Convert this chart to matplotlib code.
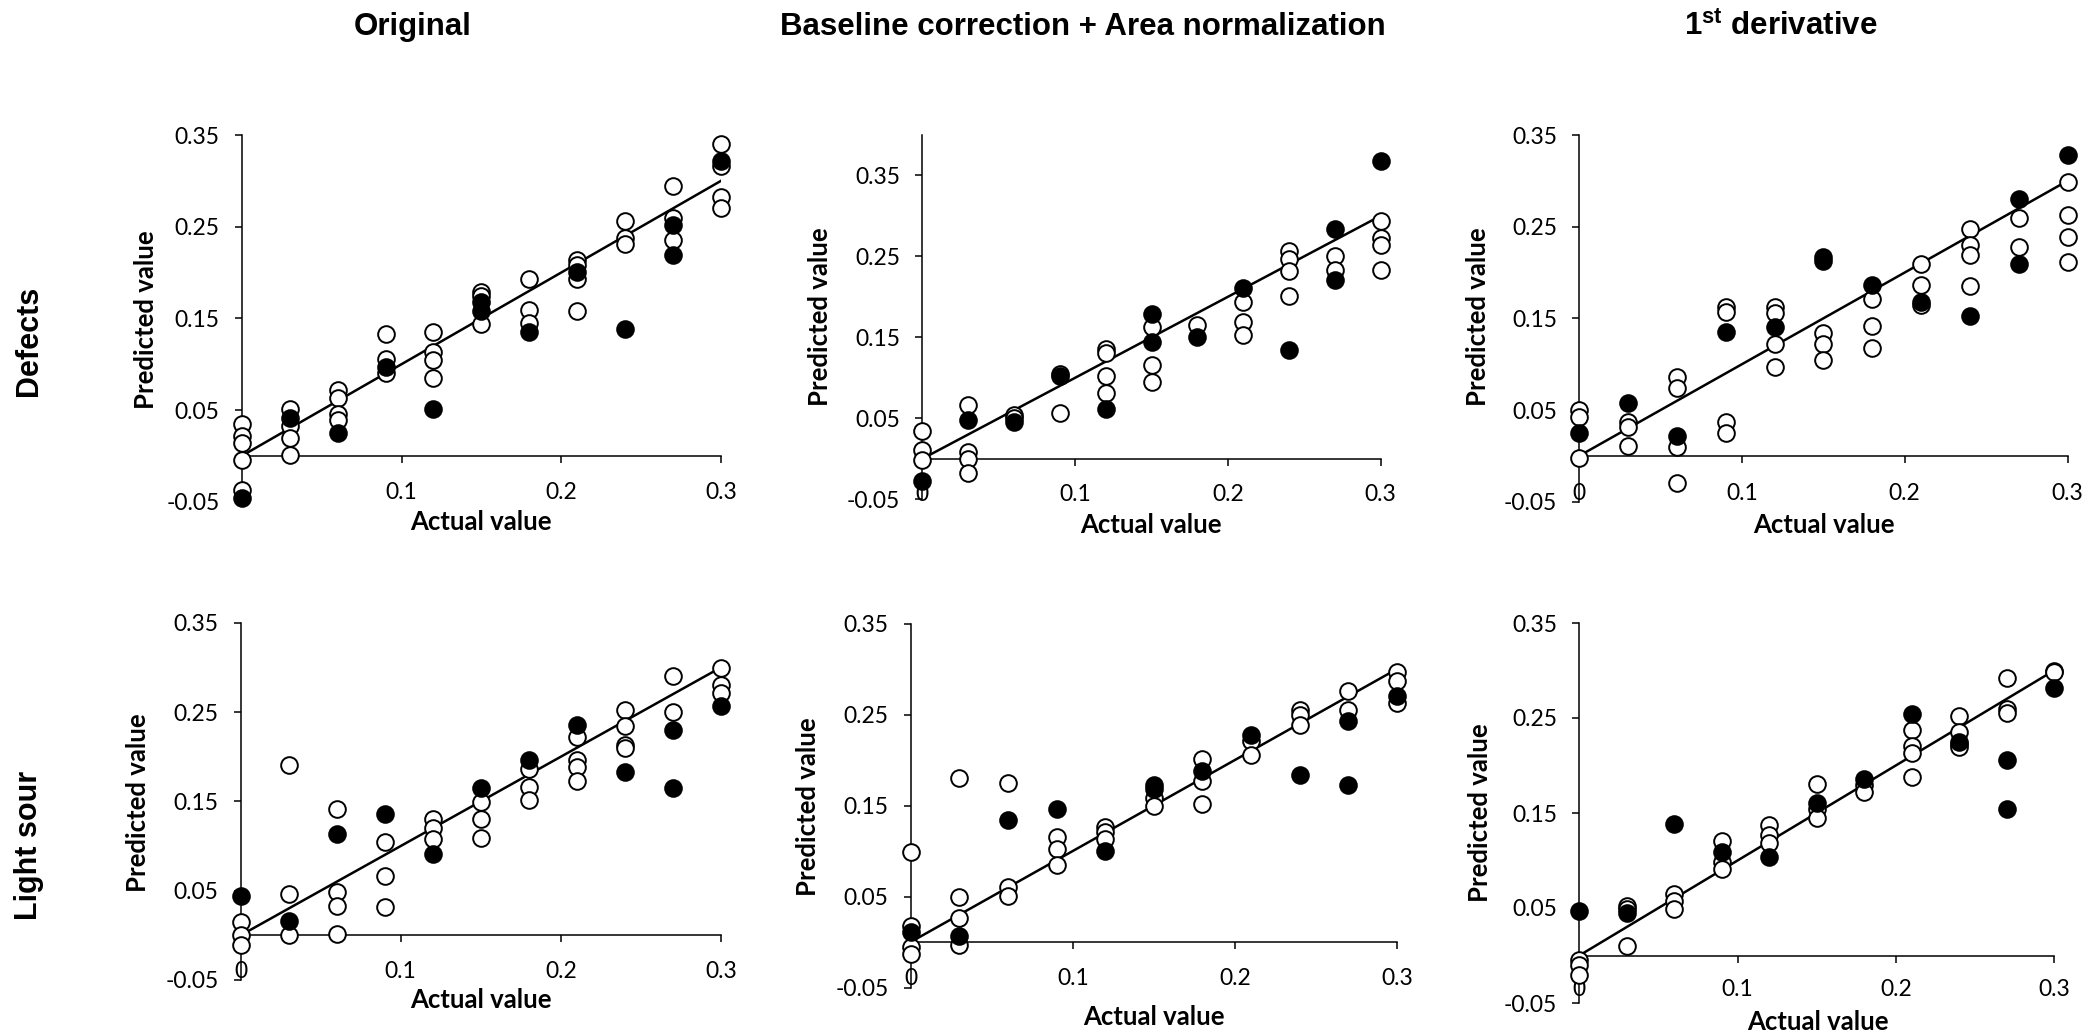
import matplotlib
matplotlib.use("Agg")
import matplotlib.pyplot as plt
import matplotlib.transforms as mtransforms

W, H = 2087, 1036

plt.rcParams['mathtext.fontset'] = 'custom'
plt.rcParams['mathtext.bf'] = 'Liberation Sans:bold'
plt.rcParams['mathtext.rm'] = 'Liberation Sans'

COL_TITLES = ["Original", "Baseline correction + Area normalization",
              r"1$^{\mathbf{st}}$ derivative"]
ROW_TITLES = ["Defects", "Light sour"]

X_LEVELS = [0, 0.03, 0.06, 0.09, 0.12, 0.15, 0.18, 0.21, 0.24, 0.27, 0.30]
XTICKS = [0, 0.1, 0.2, 0.3]
XTICK_LABELS = ["0", "0.1", "0.2", "0.3"]
YTICKS = [-0.05, 0.05, 0.15, 0.25, 0.35]
YTICK_LABELS = ["-0.05", "0.05", "0.15", "0.25", "0.35"]

# Defects - Original
DEF_ORIG_OPEN = [[0.035, 0.022, 0.014, -0.005, -0.037], [0.051, 0.033, 0.019, 0.001],
                 [0.072, 0.063, 0.046, 0.039], [0.133, 0.106, 0.090],
                 [0.135, 0.113, 0.105, 0.085], [0.179, 0.174, 0.144],
                 [0.193, 0.159, 0.145], [0.214, 0.208, 0.193, 0.158],
                 [0.256, 0.238, 0.231], [0.294, 0.259, 0.235],
                 [0.340, 0.316, 0.282, 0.270]]
DEF_ORIG_FILL = [[-0.046], [0.041], [0.025], [0.097], [0.051], [0.168, 0.158],
                 [0.135], [0.201], [0.138], [0.252, 0.219], [0.322]]

# Defects - Baseline correction + Area normalization
DEF_BASE_OPEN = [[0.034, 0.011, -0.001], [0.067, 0.008, 0.0, -0.018],
                 [0.054, 0.050], [0.056, 0.105], [0.135, 0.131, 0.102, 0.081],
                 [0.163, 0.116, 0.095], [0.165], [0.194, 0.169, 0.153],
                 [0.256, 0.247, 0.232, 0.201], [0.250, 0.233],
                 [0.293, 0.272, 0.264, 0.233]]
DEF_BASE_FILL = [[-0.027], [0.048], [0.045], [0.102], [0.062], [0.179, 0.144],
                 [0.150], [0.211], [0.134], [0.284, 0.221], [0.368]]

# Defects - 1st derivative
DEF_DER_OPEN = [[0.050, 0.042, -0.002], [0.037, 0.032, 0.011],
                [0.086, 0.074, 0.010, -0.030], [0.162, 0.157, 0.037, 0.025],
                [0.162, 0.156, 0.122, 0.097], [0.134, 0.122, 0.105],
                [0.171, 0.142, 0.118], [0.209, 0.186, 0.165],
                [0.247, 0.230, 0.219, 0.185], [0.260, 0.228],
                [0.299, 0.263, 0.239, 0.212]]
DEF_DER_FILL = [[0.025], [0.058], [0.022], [0.135], [0.141], [0.217, 0.213],
                [0.186], [0.168], [0.153], [0.280, 0.209], [0.328]]

# Light sour - Original
LS_ORIG_OPEN = [[0.015, 0.0, -0.011], [0.191, 0.046, 0.0],
                [0.141, 0.048, 0.033, 0.002], [0.104, 0.066, 0.032],
                [0.130, 0.120, 0.108], [0.149, 0.130, 0.109],
                [0.186, 0.166, 0.152], [0.222, 0.196, 0.189, 0.173],
                [0.252, 0.234, 0.213, 0.210], [0.290, 0.250],
                [0.299, 0.280, 0.271]]
LS_ORIG_FILL = [[0.044], [0.016], [0.113], [0.136], [0.091], [0.165], [0.196],
                [0.235], [0.183], [0.230, 0.165], [0.257]]

# Light sour - Baseline correction + Area normalization
LS_BASE_OPEN = [[0.099, 0.018, -0.005, -0.013], [0.180, 0.049, 0.026, -0.003],
                [0.175, 0.060, 0.051], [0.115, 0.102, 0.085],
                [0.126, 0.121, 0.113], [0.158, 0.150],
                [0.201, 0.177, 0.152], [0.221, 0.206],
                [0.255, 0.249, 0.238], [0.276, 0.255],
                [0.297, 0.287, 0.263]]
LS_BASE_FILL = [[0.011], [0.007], [0.134], [0.146], [0.100], [0.173, 0.168],
                [0.188], [0.227], [0.184], [0.243, 0.172], [0.270]]

# Light sour - 1st derivative
LS_DER_OPEN = [[-0.005, -0.010, -0.020], [0.052, 0.049, 0.010],
               [0.065, 0.057, 0.049], [0.121, 0.098, 0.091],
               [0.137, 0.127, 0.118], [0.181, 0.154, 0.145],
               [0.179, 0.172], [0.237, 0.221, 0.213, 0.188],
               [0.252, 0.235, 0.223, 0.220], [0.292, 0.260, 0.255],
               [0.300, 0.298]]
LS_DER_FILL = [[0.047], [0.045], [0.138], [0.109], [0.104], [0.161], [0.186],
               [0.254], [0.225], [0.206, 0.154], [0.282]]

SERIES = [[(DEF_ORIG_OPEN, DEF_ORIG_FILL), (DEF_BASE_OPEN, DEF_BASE_FILL), (DEF_DER_OPEN, DEF_DER_FILL)],
          [(LS_ORIG_OPEN, LS_ORIG_FILL), (LS_BASE_OPEN, LS_BASE_FILL), (LS_DER_OPEN, LS_DER_FILL)]]

# layout in pixels: axes (left, right, top, bottom), y max, ylabel center, xlabel center, xtick label lift
LAYOUT = [[((241.8, 721, 135, 501.7), 0.35, (145.7, 320), (480.6, 522), 9),
           ((922.3, 1380.7, 134.8, 499.3), 0.40, (819.7, 317), (1150.6, 525), 5),
           ((1579.2, 2067.5, 135, 501.7), 0.35, (1478.4, 317), (1823.8, 525), 8.5)],
          [((240.6, 721, 622.7, 980), 0.35, (137.8, 803), (480.6, 1000), 8.5),
           ((910.7, 1397, 623.5, 987.5), 0.35, (807.8, 807), (1153.8, 1017), 9),
           ((1579.3, 2054, 623, 1003), 0.35, (1480.5, 813), (1817.6, 1022), 13)]]
COL_TITLE_POS = [(413, 27), (1083, 27), (1781, 27)]
ROW_TITLE_POS = [(29, 341), (29, 845)]

TICK_FONT = dict(family="Lato", size=16.5)
LABEL_FONT = dict(family="Lato", size=18.5, weight="bold")


def flatten(levels):
    xs, ys = [], []
    for x, vals in zip(X_LEVELS, levels):
        for v in vals:
            xs.append(x)
            ys.append(v)
    return xs, ys


def draw_panel(fig, lay, open_lv, fill_lv):
    (l, r, t, b), ytop, ylab, xlab, lift = lay
    ax = fig.add_axes([l / W, 1 - b / H, (r - l) / W, (b - t) / H])
    ax.set_xlim(0, 0.3)
    ax.set_ylim(-0.05, ytop)

    ax.plot([0, 0.3], [0, 0.3], color="black", lw=1.8, zorder=2)
    ox, oy = flatten(open_lv)
    fx, fy = flatten(fill_lv)
    ax.plot(ox, oy, "o", ls="none", ms=12, mfc="white", mec="black", mew=1.4,
            clip_on=False, zorder=4)
    ax.plot(fx, fy, "o", ls="none", ms=12, mfc="black", mec="black", mew=1.4,
            clip_on=False, zorder=5)

    for s in ["top", "right"]:
        ax.spines[s].set_visible(False)
    ax.spines["bottom"].set_position(("data", 0))
    ax.spines["bottom"].set_linewidth(1.1)
    ax.spines["left"].set_linewidth(1.1)

    ax.set_xticks(XTICKS)
    ax.tick_params(axis="x", direction="out", length=5, width=1.1, labelbottom=False)
    ax.set_yticks(YTICKS)
    ax.set_yticklabels(YTICK_LABELS, **TICK_FONT)
    ax.tick_params(axis="y", direction="out", length=5, width=1.1, pad=11)

    trans = mtransforms.blended_transform_factory(ax.transData, ax.transAxes)
    trans = mtransforms.offset_copy(trans, fig=fig, y=lift * 72 / 100, units="points")
    for x, lab in zip(XTICKS, XTICK_LABELS):
        ax.text(x, 0, lab, transform=trans, ha="center", va="center",
                zorder=1, clip_on=False, **TICK_FONT)

    ax.set_ylabel("Predicted value", va="center", **LABEL_FONT)
    ax.yaxis.set_label_coords((ylab[0] - l) / (r - l), (b - ylab[1]) / (b - t))
    ax.set_xlabel("Actual value", va="center", **LABEL_FONT)
    ax.xaxis.set_label_coords((xlab[0] - l) / (r - l), (b - xlab[1]) / (b - t))
    return ax


fig = plt.figure(figsize=(W / 100, H / 100), dpi=100)

for i in range(2):
    for j in range(3):
        draw_panel(fig, LAYOUT[i][j], SERIES[i][j][0], SERIES[i][j][1])

for title, (x, y) in zip(COL_TITLES, COL_TITLE_POS):
    fig.text(x / W, 1 - y / H, title, ha="center", va="center",
             family="Liberation Sans", weight="bold", size=22.5)
for title, (x, y) in zip(ROW_TITLES, ROW_TITLE_POS):
    fig.text(x / W, 1 - y / H, title, ha="center", va="center", rotation=90,
             family="Liberation Sans", weight="bold", size=22)

fig.savefig("out.png", dpi=100, facecolor="white")
